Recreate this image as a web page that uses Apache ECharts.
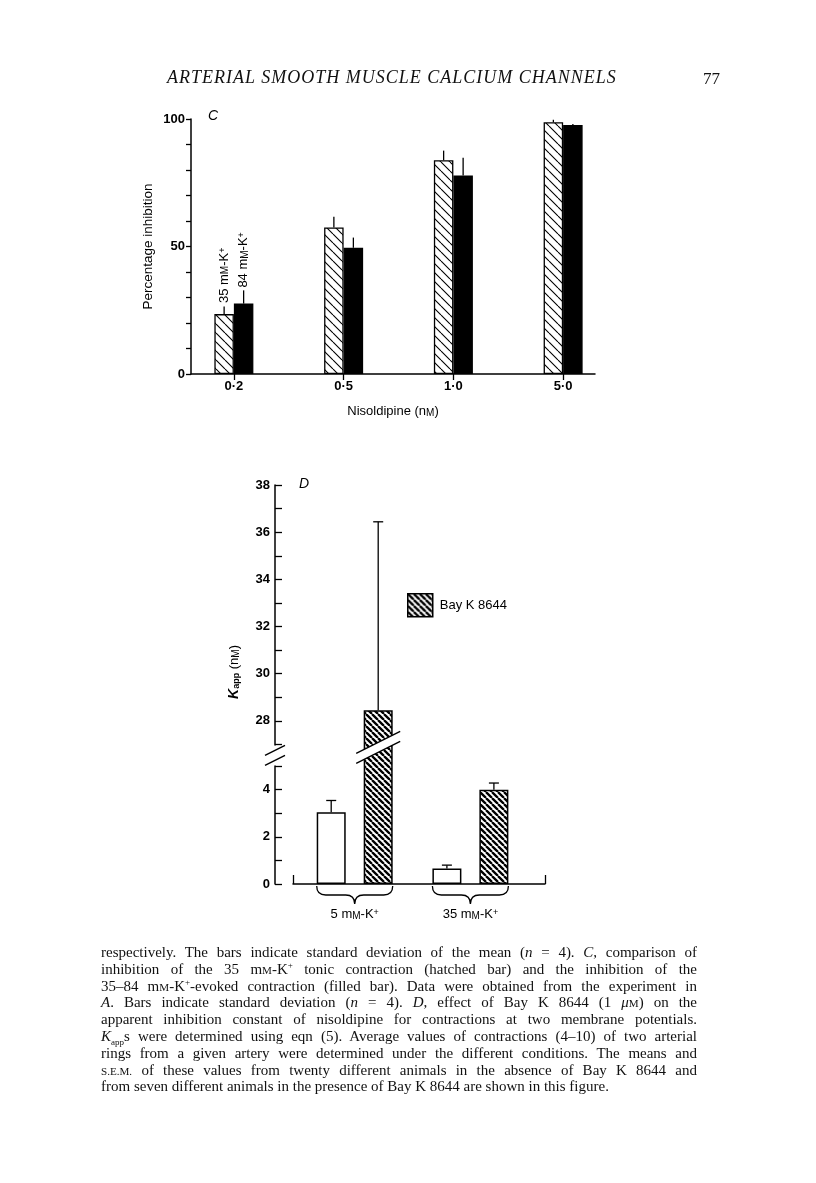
<!DOCTYPE html>
<html>
<head>
<meta charset="utf-8">
<script src="https://cdn.jsdelivr.net/npm/echarts@6.0.0/dist/echarts.min.js"></script>
<style>
  html, body { margin: 0; padding: 0; background: #fff; }
  #chart { position: absolute; left: 0; top: 0; width: 816px; height: 1183px; }
  .hdr { position: absolute; top: 67px; font-family: "Liberation Serif", serif; color: #111; white-space: nowrap; }
  .cap { position: absolute; left: 101px; top: 944px; width: 596px; font-family: "Liberation Serif", serif;
         font-size: 15px; line-height: 16.8px; color: #111; }
  .cap div { height: 16.8px; text-align: justify; text-align-last: justify; white-space: nowrap; }
  .cap div.last { text-align-last: left; }
  .cap sup, .cap sub { line-height: 0; font-size: 9px; }
  .sc { font-size: 0.74em; }
</style>
</head>
<body>
<div id="chart"></div>
<div class="hdr" style="left:167px;font-style:italic;font-size:18px;letter-spacing:1px;">ARTERIAL SMOOTH MUSCLE CALCIUM CHANNELS</div>
<div class="hdr" style="left:703px;font-size:17px;top:69px;">77</div>
<div class="cap">
  <div>respectively. The bars indicate standard deviation of the mean (<i>n</i> = 4). <i>C</i>, comparison of</div>
  <div>inhibition of the 35 m<span class="sc">M</span>-K<sup>+</sup> tonic contraction (hatched bar) and the inhibition of the</div>
  <div>35–84 m<span class="sc">M</span>-K<sup>+</sup>-evoked contraction (filled bar). Data were obtained from the experiment in</div>
  <div><i>A</i>. Bars indicate standard deviation (<i>n</i> = 4). <i>D</i>, effect of Bay K 8644 (1 <i>μ</i><span class="sc">M</span>) on the</div>
  <div>apparent inhibition constant of nisoldipine for contractions at two membrane potentials.</div>
  <div><i>K</i><sub>app</sub>s were determined using eqn (5). Average values of contractions (4–10) of two arterial</div>
  <div>rings from a given artery were determined under the different conditions. The means and</div>
  <div><span class="sc">S.E.M.</span> of these values from twenty different animals in the absence of Bay K 8644 and</div>
  <div class="last">from seven different animals in the presence of Bay K 8644 are shown in this figure.</div>
</div>
<script>
// panel C: percentage inhibition at each nisoldipine concentration
var doseLabels = ['0·2', '0·5', '1·0', '5·0'];
var tonic35 = [23.5, 57.5, 83.8, 98.7];      // 35 mM-K+ (hatched)
var tonic35Sd = [3.0, 4.2, 3.8, 1.0];
var evoked84 = [27.6, 49.5, 77.8, 97.6];     // 84 mM-K+ (filled)
var evoked84Sd = [5.2, 4.0, 7.0, 0.4];

// panel D: Kapp (nM) with / without Bay K 8644
var kLabels = ['5 mM-K+', '35 mM-K+'];
var kControl = [3.04, 0.66];
var kControlSem = [0.5, 0.14];
var kBayK = [28.45, 4.0];
var kBayKSem = [7.99, 0.28];
var kBreak = [5, 27];

var FONT = 'Liberation Sans, Arial, sans-serif';

function hatch(size, lineW) {
  var c = document.createElement('canvas');
  c.width = size; c.height = size;
  var g = c.getContext('2d');
  g.fillStyle = '#fff';
  g.fillRect(0, 0, size, size);
  g.strokeStyle = '#000';
  g.lineWidth = lineW;
  g.beginPath();
  for (var k = -1; k <= 1; k++) {
    g.moveTo(k * size, 0);
    g.lineTo(k * size + size, size);
  }
  g.stroke();
  return c;
}
var hatchC = { image: hatch(9, 1.1), repeat: 'repeat' };
var hatchD = { image: hatch(6, 2.3), repeat: 'repeat' };

var unitRich = {
  sc: { fontSize: 10, fontFamily: FONT, color: '#000', verticalAlign: 'bottom' },
  sup: { fontSize: 9, fontFamily: FONT, color: '#000', verticalAlign: 'top' }
};
function kText(s) {
  // '35 mM-K+' -> rich text with small-cap M and superscript +
  return s.replace(' mM-K+', ' m{sc|M}-K{sup|+}');
}

// error bar drawn up from the bar top; shift moves it onto one bar of a pair
function errBar(shift, cap) {
  return function (params, api) {
    var i = api.value(0);
    var base = api.coord([i, api.value(1)]);
    var top = api.coord([i, api.value(1) + api.value(2)]);
    var x = base[0] + shift;
    var st = { stroke: '#000', lineWidth: 1.3 };
    var kids = [{ type: 'line', shape: { x1: x, y1: base[1], x2: x, y2: top[1] }, style: st }];
    if (cap) kids.push({ type: 'line', shape: { x1: x - cap, y1: top[1], x2: x + cap, y2: top[1] }, style: st });
    return { type: 'group', children: kids };
  };
}
function errData(vals, errs) {
  return vals.map(function (v, i) { return [i, v, errs[i]]; });
}

function brace(params, api) {
  var p = api.coord([api.value(0), 0]);
  var cx = p[0], y0 = p[1] + 2, w = 38, r = 9, mid = y0 + 9, bot = y0 + 18;
  var d = 'M' + (cx - w) + ' ' + y0 +
    ' Q' + (cx - w) + ' ' + mid + ' ' + (cx - w + r) + ' ' + mid +
    ' L' + (cx - r) + ' ' + mid +
    ' Q' + cx + ' ' + mid + ' ' + cx + ' ' + bot +
    ' Q' + cx + ' ' + mid + ' ' + (cx + r) + ' ' + mid +
    ' L' + (cx + w - r) + ' ' + mid +
    ' Q' + (cx + w) + ' ' + mid + ' ' + (cx + w) + ' ' + y0;
  return { type: 'path', shape: { pathData: d }, style: { fill: null, stroke: '#000', lineWidth: 1.3 } };
}

var axisLine = { show: true, onZero: false, lineStyle: { color: '#000', width: 1.5 } };
var tickLabel = { color: '#000', fontSize: 13, fontWeight: 'bold', fontFamily: FONT };
var noAxis = { show: false };

var chart = echarts.init(document.getElementById('chart'), null, { renderer: 'canvas' });

var gridC = { top: 119, bottom: 1183 - 374, outerBoundsMode: 'none' };
var gridD = { top: 485, bottom: 1183 - 884, outerBoundsMode: 'none' };

var option = {
  backgroundColor: 'transparent',
  animation: false,
  grid: [
    Object.assign({ left: 191, right: 816 - 595 }, gridC),      // 0: C axes
    Object.assign({ left: 179, right: 816 - 618 }, gridC),      // 1: C bars
    Object.assign({ left: 275, right: 816 - 545 }, gridD),      // 2: D y axis
    Object.assign({ left: 293, right: 816 - 545 }, gridD),      // 3: D x axis line
    Object.assign({ left: 296.85, right: 816 - 528.25 }, gridD) // 4: D bars
  ],
  xAxis: [
    {
      gridIndex: 0, type: 'value', min: 0, max: 1,
      axisLine: axisLine, axisTick: noAxis, axisLabel: noAxis, splitLine: noAxis,
      name: 'Nisoldipine (n{sc|M})', nameLocation: 'middle', nameGap: 31,
      nameTextStyle: { fontSize: 13, fontFamily: FONT, color: '#000', rich: unitRich }
    },
    {
      gridIndex: 1, type: 'category', data: doseLabels,
      axisLine: { show: false },
      axisTick: { show: true, alignWithLabel: true, length: 6, lineStyle: { color: '#000', width: 1.3 } },
      axisLabel: Object.assign({ margin: 6, interval: 0 }, tickLabel),
      splitLine: noAxis
    },
    { gridIndex: 2, type: 'value', min: 0, max: 1, show: false },
    {
      gridIndex: 3, type: 'value', min: 0, max: 1, interval: 1,
      axisLine: axisLine,
      axisTick: { show: true, inside: true, length: 9, lineStyle: { color: '#000', width: 1.3 } },
      axisLabel: noAxis, splitLine: noAxis
    },
    {
      gridIndex: 4, type: 'category', data: kLabels,
      axisLine: { show: false }, axisTick: noAxis, splitLine: noAxis,
      axisLabel: {
        margin: 24, interval: 0, hideOverlap: false, fontSize: 13, fontFamily: FONT, color: '#000', rich: unitRich,
        formatter: function (v) { return kText(v); }
      }
    }
  ],
  yAxis: [
    {
      gridIndex: 0, type: 'value', min: 0, max: 100, interval: 10,
      axisLine: axisLine,
      axisTick: { show: true, length: 5, lineStyle: { color: '#000', width: 1.3 } },
      axisLabel: Object.assign({ margin: 6, formatter: function (v) { return v % 50 === 0 ? v : ''; } }, tickLabel),
      splitLine: noAxis,
      name: 'Percentage inhibition', nameLocation: 'middle', nameGap: 36, nameRotate: 90,
      nameTextStyle: { fontSize: 13.5, fontFamily: FONT, color: '#000' }
    },
    { gridIndex: 1, type: 'value', min: 0, max: 100, show: false },
    {
      gridIndex: 2, type: 'value', min: 0, max: 38, interval: 1,
      breaks: [{ start: kBreak[0], end: kBreak[1], gap: '5.4%' }],
      breakArea: { show: false, itemStyle: { opacity: 0 } },
      axisLine: axisLine,
      axisTick: { show: true, inside: true, length: 7, lineStyle: { color: '#000', width: 1.3 } },
      axisLabel: Object.assign({ margin: 5, formatter: function (v) { return v % 2 === 0 ? v : ''; } }, tickLabel),
      splitLine: noAxis
    },
    { gridIndex: 3, type: 'value', min: 0, max: 1, show: false },
    {
      gridIndex: 4, type: 'value', min: 0, max: 38, show: false,
      breaks: [{ start: kBreak[0], end: kBreak[1], gap: '5.4%' }],
      breakArea: { show: false, itemStyle: { opacity: 0 } }
    }
  ],
  legend: {
    data: ['Bay K 8644'], left: 407, top: 593, padding: 0,
    icon: 'rect', itemWidth: 25, itemHeight: 23, selectedMode: false,
    itemStyle: { borderColor: '#000', borderWidth: 1.5 },
    textStyle: { fontSize: 13, fontFamily: FONT, color: '#000', padding: [0, 0, 0, 2] }
  },
  graphic: [
    { type: 'text', x: 208, y: 116, z: 50, style: { text: 'C', font: 'italic 14px ' + FONT, fill: '#000', verticalAlign: 'middle' } },
    { type: 'text', x: 299, y: 484, z: 50, style: { text: 'D', font: 'italic 14px ' + FONT, fill: '#000', verticalAlign: 'middle' } },
    {
      type: 'text', x: 234, y: 672, rotation: Math.PI / 2, z: 50,
      style: {
        text: '{k|K}{sub|app} (n{sc|M})', align: 'center', verticalAlign: 'middle',
        fontSize: 13, fontFamily: FONT, fill: '#000',
        rich: {
          k: { fontSize: 14, fontStyle: 'italic', fontWeight: 'bold', fontFamily: FONT },
          sub: { fontSize: 9, fontWeight: 'bold', fontFamily: FONT, verticalAlign: 'bottom' },
          sc: { fontSize: 10, fontFamily: FONT, verticalAlign: 'bottom' }
        }
      }
    }
  ],
  series: [
    {
      name: '35 mM-K+', type: 'bar', xAxisIndex: 1, yAxisIndex: 1,
      barWidth: 19.5, barGap: '0%',
      itemStyle: { color: hatchC, borderColor: '#000', borderWidth: 1.3 },
      data: tonic35.map(function (v, i) {
        if (i !== 0) return v;
        return { value: v, label: { show: true, position: 'top', distance: 11, rotate: 90, align: 'left', verticalAlign: 'middle',
          formatter: kText('35 mM-K+'), fontSize: 13, fontFamily: FONT, color: '#000', rich: unitRich } };
      })
    },
    {
      name: '84 mM-K+', type: 'bar', xAxisIndex: 1, yAxisIndex: 1,
      barWidth: 19.5, barGap: '0%',
      itemStyle: { color: '#000', borderColor: '#000', borderWidth: 1.3 },
      data: evoked84.map(function (v, i) {
        if (i !== 0) return v;
        return { value: v, label: { show: true, position: 'top', distance: 16, rotate: 90, align: 'left', verticalAlign: 'middle',
          formatter: kText('84 mM-K+'), fontSize: 13, fontFamily: FONT, color: '#000', rich: unitRich } };
      })
    },
    { type: 'custom', xAxisIndex: 1, yAxisIndex: 1, z: 5, renderItem: errBar(-9.75, 0), data: errData(tonic35, tonic35Sd) },
    { type: 'custom', xAxisIndex: 1, yAxisIndex: 1, z: 5, renderItem: errBar(9.75, 0), data: errData(evoked84, evoked84Sd) },

    {
      name: 'Control', type: 'bar', xAxisIndex: 4, yAxisIndex: 4,
      barWidth: 29, barGap: '62%',
      itemStyle: { color: '#fff', borderColor: '#000', borderWidth: 1.5 },
      data: kControl
    },
    {
      name: 'Bay K 8644', type: 'bar', xAxisIndex: 4, yAxisIndex: 4,
      barWidth: 29, barGap: '62%',
      itemStyle: { color: hatchD, borderColor: '#000', borderWidth: 1.5 },
      data: kBayK
    },
    { type: 'custom', xAxisIndex: 4, yAxisIndex: 4, z: 5, renderItem: errBar(-23.5, 5), data: errData(kControl, kControlSem) },
    { type: 'custom', xAxisIndex: 4, yAxisIndex: 4, z: 5, renderItem: errBar(23.5, 5), data: errData(kBayK, kBayKSem) },
    { type: 'custom', xAxisIndex: 4, yAxisIndex: 4, z: 5, clip: false, renderItem: brace, data: kLabels.map(function (l, i) { return [i]; }) }
  ]
};
chart.setOption(option);

// break marks on the y axis and across the tall bar, placed from the axis scale
function slash(cx, cy, halfW, sep) {
  var dy = halfW * 0.5;
  var a = [cx - halfW, cy - sep / 2 + dy], b = [cx + halfW, cy - sep / 2 - dy];
  var c = [cx + halfW, cy + sep / 2 - dy], d = [cx - halfW, cy + sep / 2 + dy];
  var st = { stroke: '#000', lineWidth: 1.4 };
  return [
    { type: 'polygon', z: 100, shape: { points: [a, b, c, d] }, style: { fill: '#fff' } },
    { type: 'line', z: 101, shape: { x1: a[0], y1: a[1], x2: b[0], y2: b[1] }, style: st },
    { type: 'line', z: 101, shape: { x1: d[0], y1: d[1], x2: c[0], y2: c[1] }, style: st }
  ];
}
var yLo = chart.convertToPixel({ yAxisIndex: 2 }, kBreak[0]);
var yHi = chart.convertToPixel({ yAxisIndex: 2 }, kBreak[1]);
var yMid = (yLo + yHi) / 2;
var axX = chart.convertToPixel({ xAxisIndex: 2 }, 0);
var barX = chart.convertToPixel({ xAxisIndex: 4 }, kLabels[0]) + 23.5;
var marks = option.graphic.concat(slash(axX, yMid, 10, 10), slash(barX, yMid - 8, 22, 10));
chart.setOption({ graphic: marks });
</script>
</body>
</html>
